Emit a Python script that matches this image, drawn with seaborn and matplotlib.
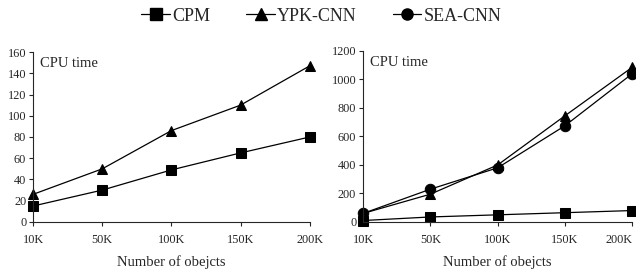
import numpy as np
import pandas as pd
import matplotlib
matplotlib.use("Agg")
import matplotlib.pyplot as plt
from matplotlib.lines import Line2D
import seaborn as sns

objects = ["10K", "50K", "100K", "150K", "200K"]
methods = ["CPM", "YPK-CNN", "SEA-CNN"]
left_cpm = [15, 30, 49, 65, 80]
left_ypk = [26, 50, 86, 110, 147]
right_cpm = [10, 35, 50, 65, 80]
right_ypk = [60, 195, 400, 745, 1085]
right_sea = [60, 230, 380, 675, 1040]

sns.set_style("ticks")
plt.rcParams['font.family'] = ['Liberation Serif', 'DejaVu Serif']
plt.rcParams['axes.linewidth'] = 0.8

markers = {"CPM": "s", "YPK-CNN": "^", "SEA-CNN": "o"}

def long_df(series):
    rows = []
    for m, vals in series.items():
        for i, v in enumerate(vals):
            rows.append({"pos": i, "obj": objects[i], "time": v, "method": m})
    return pd.DataFrame(rows)

df_left = long_df({"CPM": left_cpm, "YPK-CNN": left_ypk})
df_right = long_df({"CPM": right_cpm, "YPK-CNN": right_ypk, "SEA-CNN": right_sea})

fig = plt.figure(figsize=(6.36, 2.71), dpi=100)
ax1 = fig.add_axes([0.052, 0.181, 0.435, 0.627])
ax2 = fig.add_axes([0.571, 0.181, 0.423, 0.631])

def draw(ax, df, ymax, ystep):
    sns.lineplot(data=df, x="pos", y="time", style="method",
                 markers={k: markers[k] for k in df["method"].unique()},
                 dashes=False, color="black", linewidth=0.9, markersize=7.5,
                 markeredgecolor="black", ax=ax, legend=False, clip_on=False)
    ax.set_xlim(0, 4)
    ax.set_ylim(0, ymax)
    ax.set_xticks(range(len(objects)))
    ax.set_xticklabels(objects)
    ax.set_yticks(np.arange(0, ymax + 1, ystep))
    ax.tick_params(axis="both", labelsize=8.8, length=3, width=0.8, pad=2)
    ax.tick_params(axis="x", pad=6)
    ax.set_xlabel("Number of obejcts", fontsize=10.5, labelpad=6)
    ax.set_ylabel("")
    ax.text(0.025, 0.97, "CPU time", transform=ax.transAxes, fontsize=10.5,
            va="top", ha="left")
    sns.despine(ax=ax)

draw(ax1, df_left, 160, 20)
draw(ax2, df_right, 1200, 200)
ax2.get_xticklabels()[-1].set_horizontalalignment("right")

handles = [Line2D([], [], color="black", marker=markers[m], markersize=8,
                  linewidth=0.9) for m in methods]
fig.legend(handles, methods, loc="center", bbox_to_anchor=(0.505, 0.94), ncol=3,
           frameon=False, fontsize=13, handlelength=1.6, handletextpad=0.1,
           columnspacing=2.0)

fig.savefig("out.png", dpi=100)
